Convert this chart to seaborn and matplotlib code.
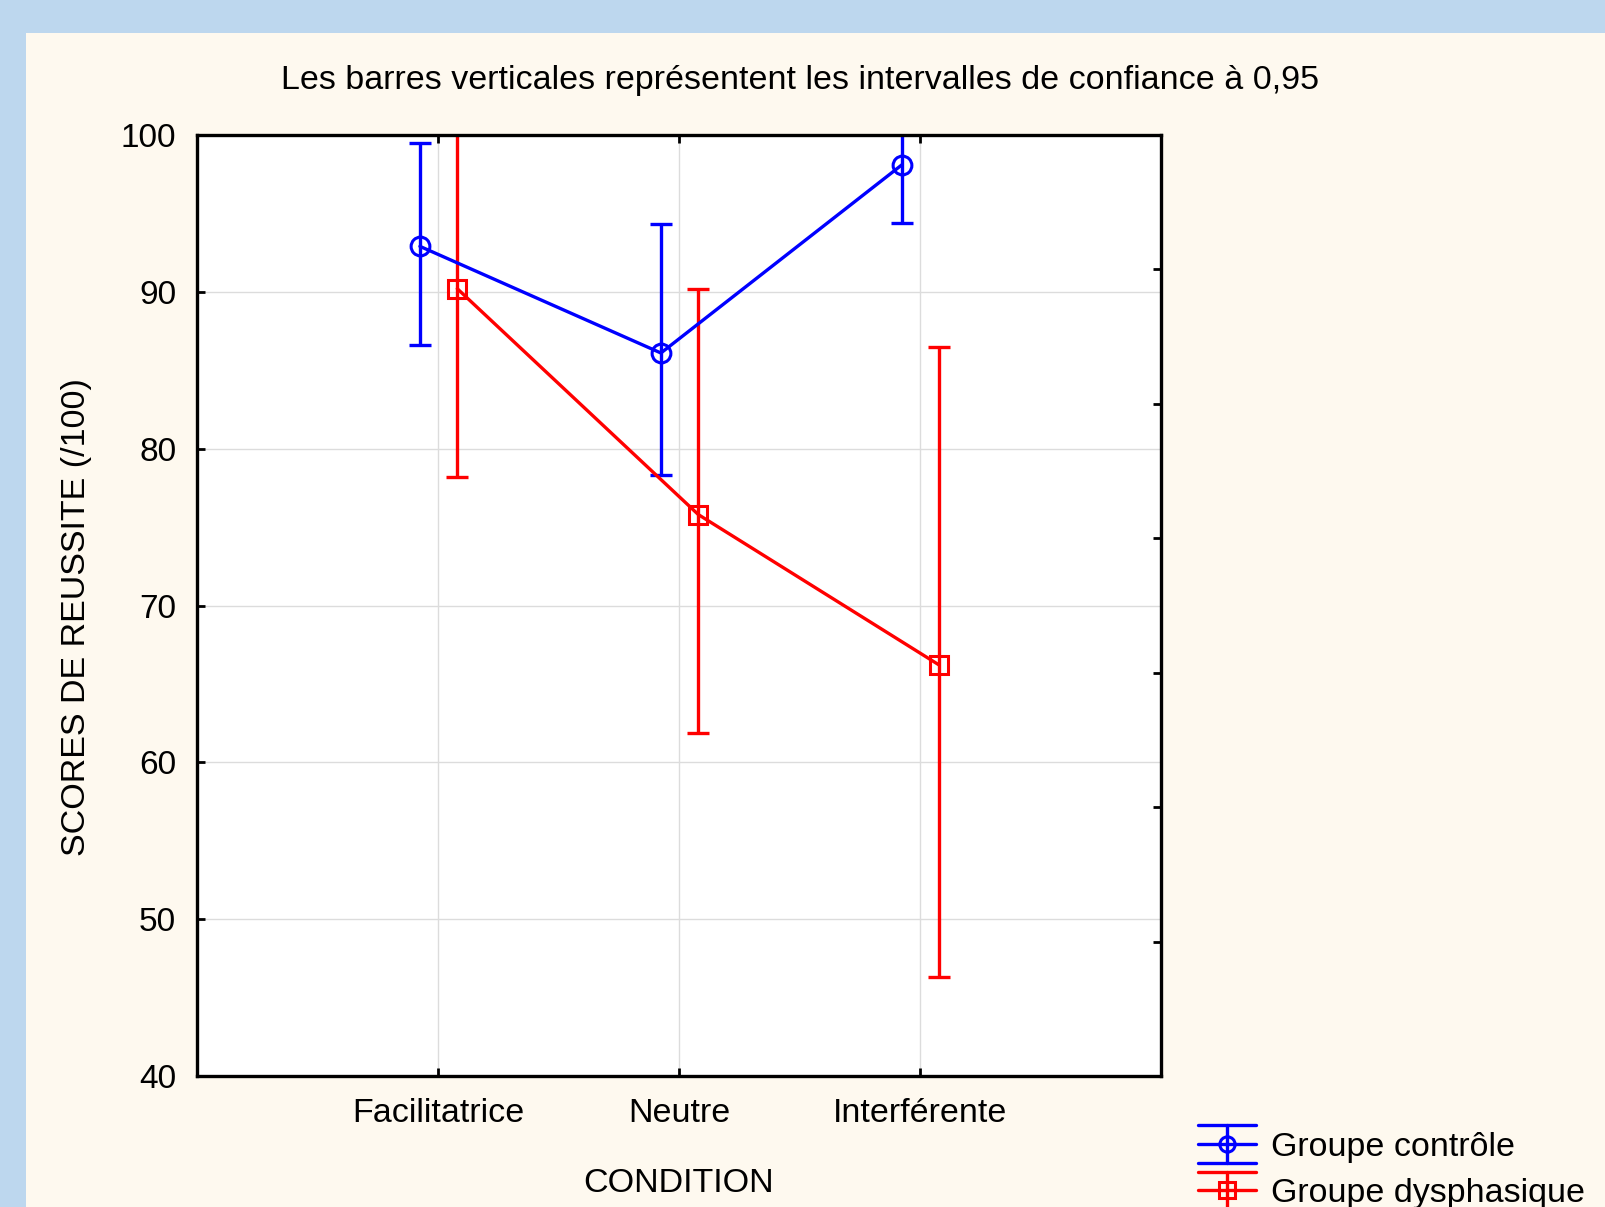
import numpy as np
import pandas as pd
import matplotlib
matplotlib.use('Agg')
import matplotlib.pyplot as plt
import seaborn as sns
from matplotlib.patches import Rectangle
from matplotlib.lines import Line2D
from matplotlib.legend_handler import HandlerBase

# Données
conditions = ["Facilitatrice", "Neutre", "Interférente"]
groupes = ["Groupe contrôle", "Groupe dysphasique"]

ctrl_moy = [92.9, 86.1, 98.1]
ctrl_bas = [86.6, 78.3, 94.4]
ctrl_haut = [99.5, 94.3, 101.8]

dys_moy = [90.2, 75.8, 66.2]
dys_bas = [78.2, 61.9, 46.3]
dys_haut = [102.2, 90.2, 86.5]

sns.set_style("white")
plt.rcParams['font.family'] = ['Liberation Sans', 'DejaVu Sans']
plt.rcParams['font.size'] = 24.5
for k in ['text.color', 'axes.labelcolor', 'xtick.color', 'ytick.color']:
    plt.rcParams[k] = 'black'

couleurs = {"Groupe contrôle": "#0000ff", "Groupe dysphasique": "#ff0000"}
marqueurs = {"Groupe contrôle": "o", "Groupe dysphasique": "s"}
decalage = {"Groupe contrôle": -0.075, "Groupe dysphasique": 0.08}

series = {
    "Groupe contrôle": (ctrl_moy, ctrl_bas, ctrl_haut),
    "Groupe dysphasique": (dys_moy, dys_bas, dys_haut),
}


class HandlerBarre(HandlerBase):
    # symbole de légende : trois traits horizontaux, une barre verticale, le marqueur
    def create_artists(self, legend, orig, xd, yd, w, h, fontsize, trans):
        c = orig.get_color()
        yc = h / 2 - yd
        dy = 0.55 * fontsize
        arts = []
        for y in (yc - dy, yc, yc + dy):
            arts.append(Line2D([-xd, -xd + w], [y, y], color=c, lw=2.4))
        arts.append(Line2D([-xd + w / 2] * 2, [yc - dy, yc + dy], color=c, lw=2.4))
        arts.append(Line2D([-xd + w / 2], [yc], marker=orig.get_marker(),
                           markersize=11, markerfacecolor='none',
                           markeredgecolor=c, markeredgewidth=2.2))
        for a in arts:
            a.set_transform(trans)
        return arts


fig = plt.figure(figsize=(16.06, 12.07), dpi=100, facecolor="#bdd7ee")
fig.add_artist(Rectangle((26 / 1606, 0), 1, 1 - 33 / 1207,
                         transform=fig.transFigure, facecolor="#fef9ef",
                         edgecolor="none", zorder=-10))

ax = fig.add_axes([197 / 1606, 1 - 1076 / 1207, 964 / 1606, 941 / 1207])
ax.set_facecolor("white")

handles = []
for g in groupes:
    moy, bas, haut = series[g]
    moy = np.array(moy)
    df = pd.DataFrame({
        "pos": np.arange(len(conditions)) + decalage[g],
        "score": moy,
    })
    c = couleurs[g]
    sns.lineplot(data=df, x="pos", y="score", color=c, linewidth=2.4,
                 marker=marqueurs[g], markersize=13.5, markerfacecolor="none",
                 markeredgecolor=c, markeredgewidth=2.2, sort=False, ax=ax,
                 zorder=3)
    handles.append(ax.lines[-1])
    ax.errorbar(df["pos"], moy,
                yerr=[moy - np.array(bas), np.array(haut) - moy],
                fmt="none", ecolor=c, elinewidth=2.4, capsize=8,
                capthick=2.4, zorder=2)

ax.set_xlim(-1, 3)
ax.set_ylim(40, 100)
ax.set_xticks(range(len(conditions)))
ax.set_xticklabels(conditions)
ax.set_yticks(range(40, 101, 10))
ax.grid(True, color="#dcdcdc", linewidth=1)
ax.set_axisbelow(True)

for s in ax.spines.values():
    s.set_color("black")
    s.set_linewidth(2.4)

ax.tick_params(axis="x", direction="in", length=6, width=2, pad=16,
               top=True, bottom=True, labelsize=24.5)
ax.tick_params(axis="y", direction="in", length=6, width=2, pad=15,
               left=True, right=False, labelsize=24)

ax2 = ax.twinx()
ax2.set_ylim(40, 100)
ax2.set_yticks(np.linspace(40, 100, 8))
ax2.set_yticklabels([])
ax2.tick_params(axis="y", direction="in", length=6, width=2, right=True)
for s in ax2.spines.values():
    s.set_visible(False)

ax.set_xlabel("CONDITION", fontsize=24.5, labelpad=28)
ax.set_ylabel("SCORES DE REUSSITE (/100)", fontsize=24.5)
ax.yaxis.set_label_coords(-0.109, 0.488)

fig.text(800 / 1606, 1 - 80 / 1207,
         "Les barres verticales représentent les intervalles de confiance à 0,95",
         ha="center", va="center", fontsize=24.5)

fig.legend(handles, groupes, loc="upper left",
           bbox_to_anchor=(1198 / 1606, 1 - 1132 / 1207),
           frameon=False, borderpad=0, borderaxespad=0,
           handlelength=1.7, handletextpad=0.46, labelspacing=0.45,
           fontsize=24.5, handler_map={Line2D: HandlerBarre()})

fig.savefig("out.png", dpi=100, facecolor=fig.get_facecolor())
